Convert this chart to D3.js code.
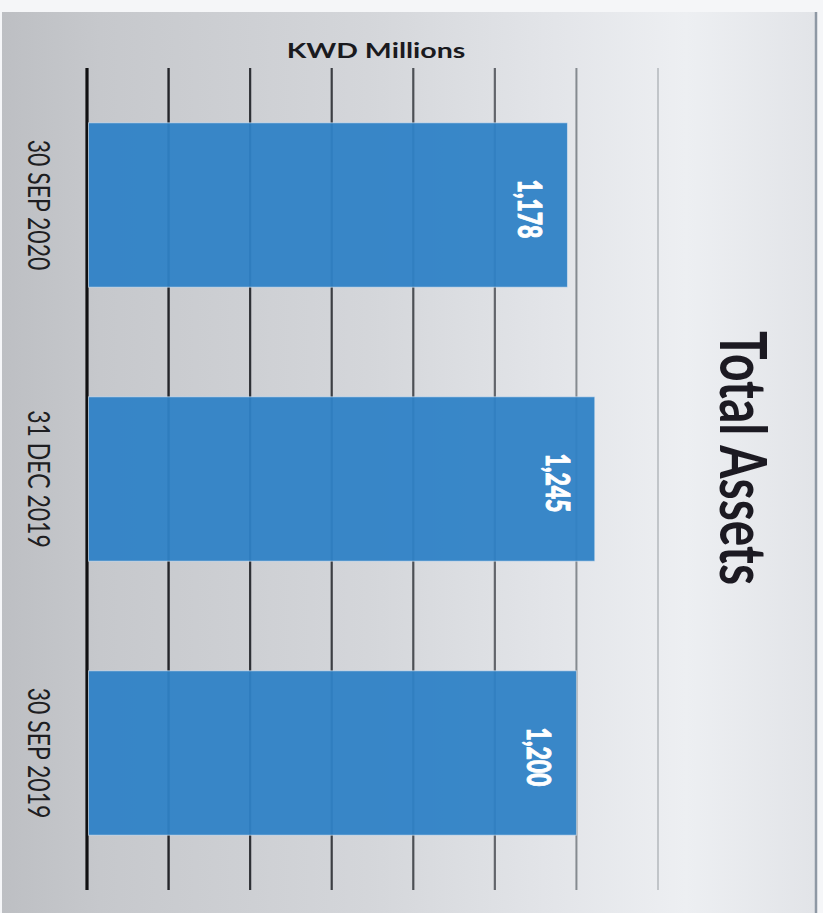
<!DOCTYPE html>
<html>
<head>
<meta charset="utf-8">
<script src="https://cdn.jsdelivr.net/npm/d3@7/dist/d3.min.js"></script>
<style>
  html, body { margin: 0; padding: 0; background: #f4f5f7; }
  svg { display: block; }
  text { font-family: Lato, "Open Sans", "Noto Sans", sans-serif; }
</style>
</head>
<body>
<svg id="chart" width="823" height="913"></svg>
<script>
// ---- data ----
const categories = ["30 SEP 2020", "31 DEC 2019", "30 SEP 2019"];
const values = [1178, 1245, 1200];
const gridTicks = [0, 200, 400, 600, 800, 1000, 1200, 1400];
const unitLabel = "KWD Millions";
const chartTitle = "Total Assets";

// ---- layout ----
const W = 823, H = 913;
const svg = d3.select("#chart");
const stretch = 1.36; // horizontal stretch of the original picture

const defs = svg.append("defs");
const grad = defs.append("linearGradient").attr("id", "bg").attr("x1", "0").attr("x2", "1").attr("y1", "0").attr("y2", "0");
[[0, "#bdbfc3"], [0.12, "#c6c8cc"], [0.45, "#d4d6da"], [0.68, "#e3e5e9"], [0.84, "#edeff2"], [1, "#e2e4e8"]]
  .forEach(([o, c]) => grad.append("stop").attr("offset", o).attr("stop-color", c));

svg.append("rect").attr("x", 0).attr("y", 0).attr("width", W).attr("height", H).attr("fill", "#f5f6f8");
svg.append("rect").attr("x", 2).attr("y", 12).attr("width", 814).attr("height", H - 12).attr("fill", "url(#bg)");
svg.append("line").attr("x1", 816).attr("x2", 816).attr("y1", 12).attr("y2", H)
  .attr("stroke", "#8e98a4").attr("stroke-width", 2.5);

const x = d3.scaleLinear().domain([0, 1400]).range([87, 658]);
const y = d3.scaleBand().domain(categories).range([68, 890]).paddingInner(0.4).paddingOuter(0.2);

// gridlines
const gridColors = ["#101012", "#24252a", "#2e3035", "#3c3e43", "#4d5055", "#62656b", "#858a90", "#b3b7bc"];
const gridWidths = [3.2, 2.4, 2.2, 2.2, 2.2, 2.2, 2, 1.5];
svg.append("g").selectAll("line").data(gridTicks).join("line")
  .attr("x1", d => x(d)).attr("x2", d => x(d))
  .attr("y1", y.range()[0]).attr("y2", y.range()[1])
  .attr("stroke", (d, i) => gridColors[i])
  .attr("stroke-width", (d, i) => gridWidths[i]);

// bars
svg.append("g").selectAll("rect").data(values).join("rect")
  .attr("x", x(0) + 1.5)
  .attr("y", (d, i) => y(categories[i]))
  .attr("width", d => x(d) - x(0) - 1.5)
  .attr("height", y.bandwidth())
  .attr("fill", "#2f82c6")
  .attr("fill-opacity", 0.95)
  .attr("stroke", "#dfe9f3").attr("stroke-opacity", 0.6).attr("stroke-width", 1);

// value labels
const fmt = d3.format(",");
svg.append("g").selectAll("text").data(values).join("text")
  .attr("transform", (d, i) => `translate(${x(d) - 49},${y(categories[i]) + y.bandwidth() / 2 + 4}) scale(${stretch},1) rotate(90)`)
  .attr("text-anchor", "middle")
  .attr("fill", "#ffffff")
  .attr("stroke", "#ffffff").attr("stroke-width", 0.7)
  .attr("font-weight", 900)
  .attr("font-size", 23)
  .text(d => fmt(d));

// category labels
svg.append("g").selectAll("text").data(categories).join("text")
  .attr("transform", d => `translate(28,${y(d) + y.bandwidth() / 2}) scale(${stretch},1) rotate(90)`)
  .attr("text-anchor", "middle")
  .attr("fill", "#1e1e22")
  .attr("font-size", 23)
  .text(d => d);

// unit label
svg.append("text")
  .attr("transform", `translate(376,58) scale(${stretch},1)`)
  .attr("text-anchor", "middle")
  .attr("fill", "#1a1a1e")
  .attr("font-weight", 700)
  .attr("font-size", 21)
  .text(unitLabel);

// title
svg.append("text")
  .attr("transform", `translate(720,458) scale(${stretch},1) rotate(90)`)
  .attr("text-anchor", "middle")
  .attr("fill", "#1c1a22")
  .attr("font-weight", 700)
  .attr("font-size", 48)
  .text(chartTitle);
</script>
</body>
</html>
